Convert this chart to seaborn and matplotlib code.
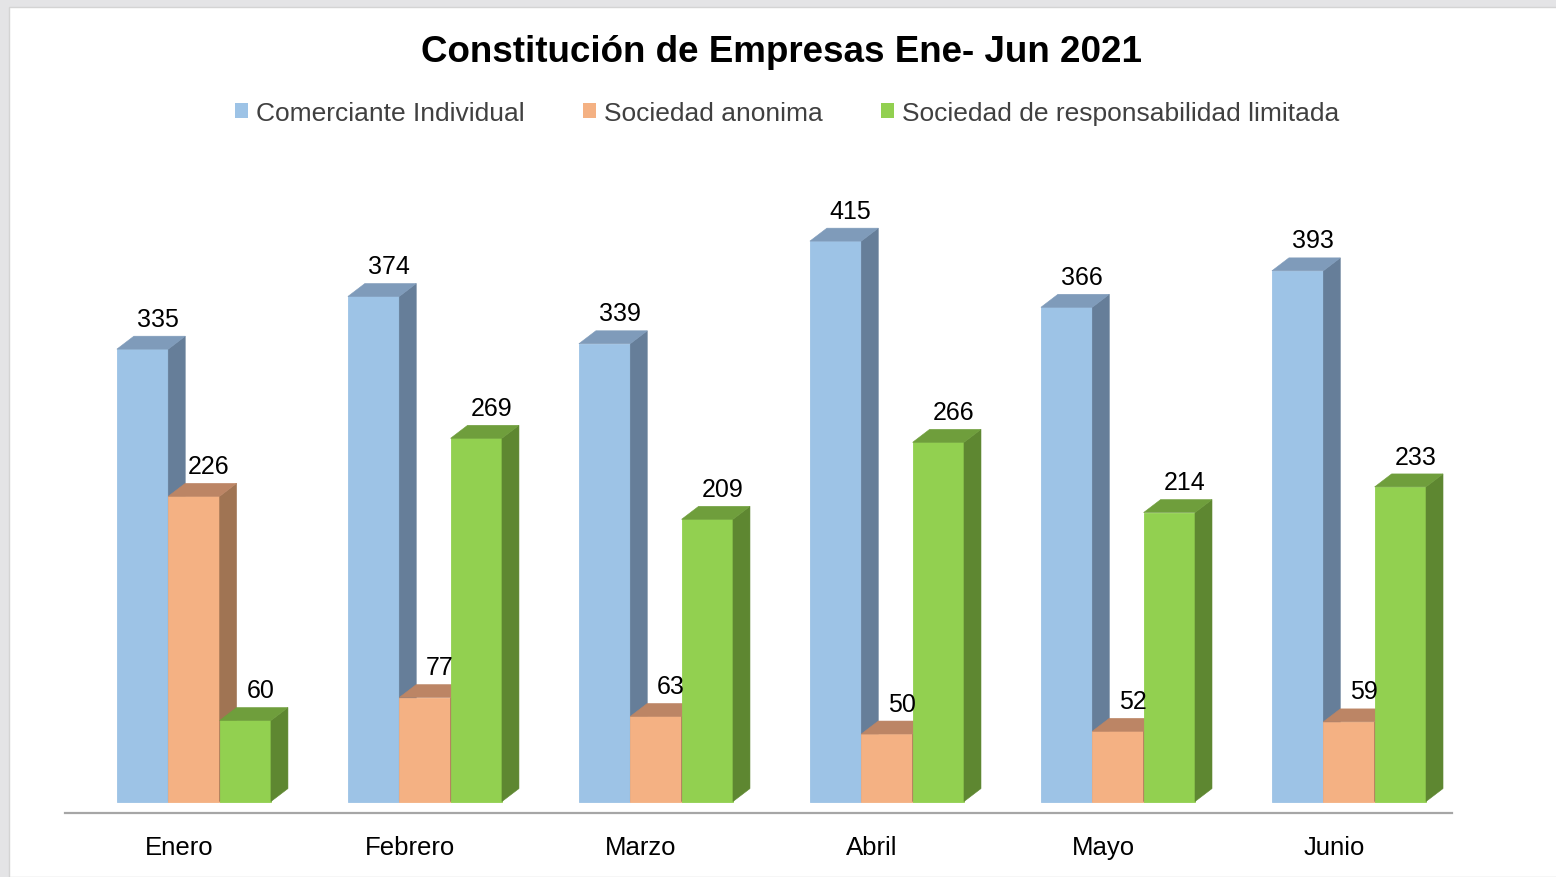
import matplotlib
matplotlib.use("Agg")
import matplotlib.pyplot as plt
import matplotlib.transforms as mtransforms
from matplotlib.patches import Polygon, Patch, Rectangle
import seaborn as sns
import pandas as pd

# Data
meses = ["Enero", "Febrero", "Marzo", "Abril", "Mayo", "Junio"]
tipos = ["Comerciante Individual", "Sociedad anonima",
         "Sociedad de responsabilidad limitada"]
comerciante = [335, 374, 339, 415, 366, 393]
anonima = [226, 77, 63, 50, 52, 59]
limitada = [60, 269, 209, 266, 214, 233]

front = ["#9DC3E6", "#F4B183", "#92D050"]
side = ["#667E99", "#A07453", "#5E8731"]
top = ["#7F9BBA", "#BC8565", "#6F9E3C"]

df = pd.DataFrame({
    "mes": meses * 3,
    "tipo": [tipos[0]] * 6 + [tipos[1]] * 6 + [tipos[2]] * 6,
    "valor": comerciante + anonima + limitada,
})

sns.set_theme(style="white")
plt.rcParams["font.family"] = ["Liberation Sans", "DejaVu Sans"]

fig = plt.figure(figsize=(15.56, 8.78), dpi=100)
fig.patch.set_facecolor("#E4E4E6")
fig.patches.append(Rectangle((9 / 1556, 0), 1, 1 - 8 / 878, transform=fig.transFigure,
                             facecolor="white", edgecolor="#D4D4D4", lw=1, zorder=-10))
ax = fig.add_axes([65 / 1556, (878 - 814) / 878, (1452 - 65) / 1556, (814 - 180) / 878])
ax.set_facecolor("none")

sns.barplot(data=df, x="mes", y="valor", hue="tipo", palette=front,
            width=0.667, ax=ax, legend=False, linewidth=0, saturation=1)

# fake 3D depth
dx = 17 / 231
dy = 9.6
for i, cont in enumerate(ax.containers):
    for bar in cont.patches:
        bar.set_zorder(2 + i)
        bar.set_edgecolor(front[i])
        bar.set_linewidth(0.6)
        x0 = bar.get_x()
        w = bar.get_width()
        h = bar.get_height()
        x1 = x0 + w
        ax.add_patch(Polygon([(x1, 0), (x1 + dx, dy), (x1 + dx, h + dy), (x1, h)],
                             closed=True, facecolor=side[i], edgecolor=side[i],
                             lw=0.4, zorder=2 + i))
        ax.add_patch(Polygon([(x0, h), (x0 + dx, h + dy), (x1 + dx, h + dy), (x1, h)],
                             closed=True, facecolor=top[i], edgecolor=top[i],
                             lw=0.4, zorder=2 + i))
        ax.text(x0 + w / 2 + 0.065, h + dy + 4, f"{h:.0f}", ha="center", va="bottom",
                fontsize=18, color="black", zorder=10)

ax.set_xlim(-0.558, 5.446)
ax.set_ylim(-8.5, 461)
ax.set_xlabel("")
ax.set_ylabel("")
ax.set_yticks([])
for s in ["top", "right", "left"]:
    ax.spines[s].set_visible(False)
ax.spines["bottom"].set_color("#A6A6A6")
ax.spines["bottom"].set_linewidth(1.6)
ax.tick_params(axis="x", length=0, pad=16, labelsize=18.5, labelcolor="black")
shift = mtransforms.ScaledTranslation(-0.15, 0, fig.dpi_scale_trans)
for lab in ax.get_xticklabels():
    lab.set_transform(lab.get_transform() + shift)

fig.text(0.502, 1 - 52 / 878, "Constitución de Empresas Ene- Jun 2021",
         ha="center", va="center", fontsize=26.5, fontweight="bold", color="black")

handles = [Patch(facecolor=c, edgecolor="none") for c in front]
fig.legend(handles, tipos, loc="center", bbox_to_anchor=(0.506, 1 - 114 / 878), ncol=3,
           frameon=False, fontsize=19, handlelength=0.5, handleheight=0.5,
           handletextpad=0.3, columnspacing=2.2, labelcolor="#404040")

fig.savefig("out.png", dpi=100)
